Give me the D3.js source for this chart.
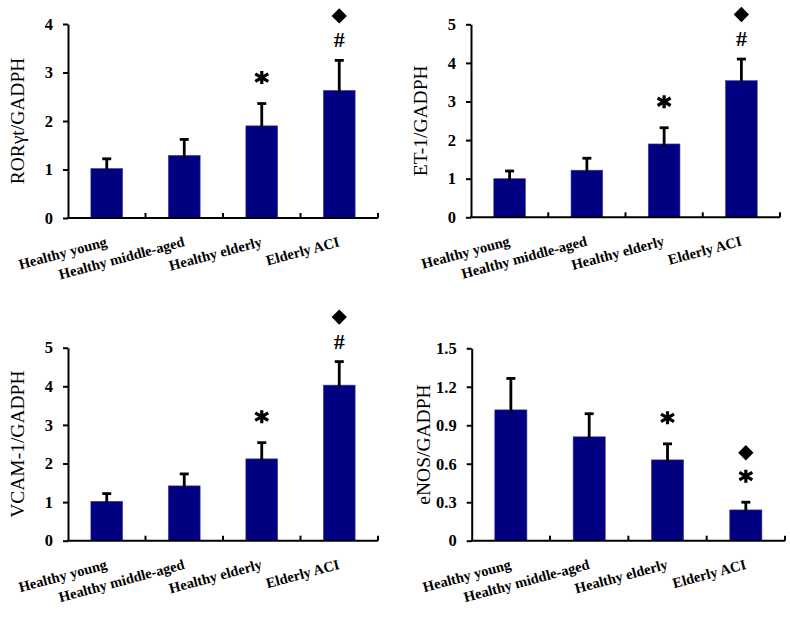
<!DOCTYPE html>
<html>
<head>
<meta charset="utf-8">
<script src="https://cdn.jsdelivr.net/npm/d3@7"></script>
<style>
  html, body { margin: 0; padding: 0; background: #fff; }
  svg { display: block; }
  text { font-family: "Liberation Serif", "Times New Roman", serif; fill: #000; }
</style>
</head>
<body>
<script>
// ---- data ----
const categories = ["Healthy young", "Healthy middle-aged", "Healthy elderly", "Elderly ACI"];

const rorMean = [1.02, 1.29, 1.90, 2.63];
const rorSD   = [0.20, 0.33, 0.46, 0.62];
const rorMarks = [[], [], ["star"], ["hash", "diamond"]];
const rorTicks = [0, 1, 2, 3, 4];

const et1Mean = [1.00, 1.22, 1.90, 3.54];
const et1SD   = [0.20, 0.31, 0.42, 0.56];
const et1Marks = [[], [], ["star"], ["hash", "diamond"]];
const et1Ticks = [0, 1, 2, 3, 4, 5];

const vcamMean = [1.02, 1.42, 2.12, 4.03];
const vcamSD   = [0.20, 0.31, 0.42, 0.61];
const vcamMarks = [[], [], ["star"], ["hash", "diamond"]];
const vcamTicks = [0, 1, 2, 3, 4, 5];

const enosMean = [1.02, 0.81, 0.63, 0.24];
const enosSD   = [0.245, 0.18, 0.125, 0.06];
const enosMarks = [[], [], ["star"], ["star", "diamond"]];
const enosTicks = [0, 0.3, 0.6, 0.9, 1.2, 1.5];
const enosTickLabels = ["0", "0.3", "0.6", "0.9", "1.2", "1.5"];

const panels = [
  { label: "RORγt/GADPH", mean: rorMean, sd: rorSD, marks: rorMarks, ticks: rorTicks, tickLabels: rorTicks.map(String),
    x0: 68, x1: 378, yTop: 24, yBot: 218, labelX: 17 },
  { label: "ET-1/GADPH", mean: et1Mean, sd: et1SD, marks: et1Marks, ticks: et1Ticks, tickLabels: et1Ticks.map(String),
    x0: 471, x1: 780, yTop: 24.3, yBot: 217.3, labelX: 420 },
  { label: "VCAM-1/GADPH", mean: vcamMean, sd: vcamSD, marks: vcamMarks, ticks: vcamTicks, tickLabels: vcamTicks.map(String),
    x0: 68, x1: 378, yTop: 347.7, yBot: 540.7, labelX: 17 },
  { label: "eNOS/GADPH", mean: enosMean, sd: enosSD, marks: enosMarks, ticks: enosTicks, tickLabels: enosTickLabels,
    x0: 471.7, x1: 785, yTop: 348.3, yBot: 540.7, labelX: 423 }
];

const W = 790, H = 620;
const svg = d3.select("body").append("svg").attr("width", W).attr("height", H);

// custom asterisk symbol (vertical stem + two shallow diagonals)
const starSymbol = {
  draw(ctx, size) {
    const v = 6.5, a = 7.5, ang = 30 * Math.PI / 180;
    ctx.moveTo(0, -v); ctx.lineTo(0, v);
    ctx.moveTo(-a * Math.cos(ang), -a * Math.sin(ang)); ctx.lineTo(a * Math.cos(ang), a * Math.sin(ang));
    ctx.moveTo(-a * Math.cos(ang), a * Math.sin(ang)); ctx.lineTo(a * Math.cos(ang), -a * Math.sin(ang));
  }
};

panels.forEach(p => {
  const g = svg.append("g");
  const x = d3.scaleBand().domain(categories).range([p.x0, p.x1]).paddingInner(0).paddingOuter(0);
  const yMax = p.ticks[p.ticks.length - 1];
  const y = d3.scaleLinear().domain([0, yMax]).range([p.yBot, p.yTop]);
  const bw = x.bandwidth() * 0.41;

  // bars
  g.selectAll("rect.bar").data(categories).enter().append("rect")
    .attr("x", d => x(d) + (x.bandwidth() - bw) / 2)
    .attr("y", (d, i) => y(p.mean[i]))
    .attr("width", bw)
    .attr("height", (d, i) => p.yBot - y(p.mean[i]))
    .attr("fill", "#000080")
    .attr("stroke", "#3c3ca8").attr("stroke-width", 0.6);

  // error bars
  const eb = g.selectAll("g.eb").data(categories).enter().append("g");
  eb.append("line")
    .attr("x1", d => x(d) + x.bandwidth() / 2).attr("x2", d => x(d) + x.bandwidth() / 2)
    .attr("y1", (d, i) => y(p.mean[i]) + 2)
    .attr("y2", (d, i) => y(p.mean[i] + p.sd[i]))
    .attr("stroke", "#000").attr("stroke-width", 2.8);
  eb.append("line")
    .attr("x1", d => x(d) + x.bandwidth() / 2 - 4.5).attr("x2", d => x(d) + x.bandwidth() / 2 + 4.5)
    .attr("y1", (d, i) => y(p.mean[i] + p.sd[i]))
    .attr("y2", (d, i) => y(p.mean[i] + p.sd[i]))
    .attr("stroke", "#000").attr("stroke-width", 2.8);

  // y axis
  const yAxis = d3.axisLeft(y).tickValues(p.ticks).tickFormat((d, i) => p.tickLabels[i]).tickSizeInner(5).tickSizeOuter(0).tickPadding(10);
  const ya = g.append("g").attr("transform", `translate(${p.x0},0)`).call(yAxis);
  ya.select(".domain").attr("stroke", "#000").attr("stroke-width", 2);
  ya.selectAll(".tick line").attr("stroke", "#000").attr("stroke-width", 2);
  ya.selectAll(".tick text").attr("font-family", "Liberation Serif, serif").attr("font-weight", "bold")
    .attr("font-size", 16.5).attr("fill", "#000");

  // x axis line + upward ticks at band boundaries
  g.append("line").attr("x1", p.x0 - 1).attr("x2", p.x1).attr("y1", p.yBot).attr("y2", p.yBot)
    .attr("stroke", "#000").attr("stroke-width", 2);
  g.selectAll("line.xt").data(categories).enter().append("line")
    .attr("x1", d => x(d) + x.bandwidth()).attr("x2", d => x(d) + x.bandwidth())
    .attr("y1", p.yBot).attr("y2", p.yBot - 5)
    .attr("stroke", "#000").attr("stroke-width", 2);

  // category labels
  g.selectAll("text.cat").data(categories).enter().append("text")
    .attr("transform", d => `translate(${x(d) + x.bandwidth() / 2 + 1},${p.yBot + 28}) rotate(-15)`)
    .attr("text-anchor", "end")
    .attr("font-size", 14.5).attr("font-weight", "bold")
    .text(d => d);

  // y label
  g.append("text")
    .attr("transform", `translate(${p.labelX},${(p.yTop + p.yBot) / 2}) rotate(-90)`)
    .attr("text-anchor", "middle").attr("dominant-baseline", "central")
    .attr("font-size", 19.5)
    .text(p.label);

  // significance markers
  categories.forEach((c, i) => {
    let cy = y(p.mean[i] + p.sd[i]);
    const cx = x(c) + x.bandwidth() / 2;
    p.marks[i].forEach((m, k) => {
      if (m === "star") {
        cy -= (k === 0 ? 26 : 24);
        g.append("path").attr("d", d3.symbol().type(starSymbol)())
          .attr("transform", `translate(${cx},${cy})`)
          .attr("stroke", "#000").attr("stroke-width", 3.2).attr("fill", "none");
      } else if (m === "hash") {
        cy -= (k === 0 ? 21 : 23);
        g.append("text").attr("x", cx).attr("y", cy).attr("dy", "0.36em")
          .attr("text-anchor", "middle").attr("font-size", 22).attr("font-weight", "bold").text("#");
      } else if (m === "diamond") {
        cy -= 23.5;
        g.append("path").attr("d", d3.symbol().type(d3.symbolDiamond2).size(150)())
          .attr("transform", `translate(${cx},${cy})`)
          .attr("fill", "#000");
      }
    });
  });
});
</script>
</body>
</html>
